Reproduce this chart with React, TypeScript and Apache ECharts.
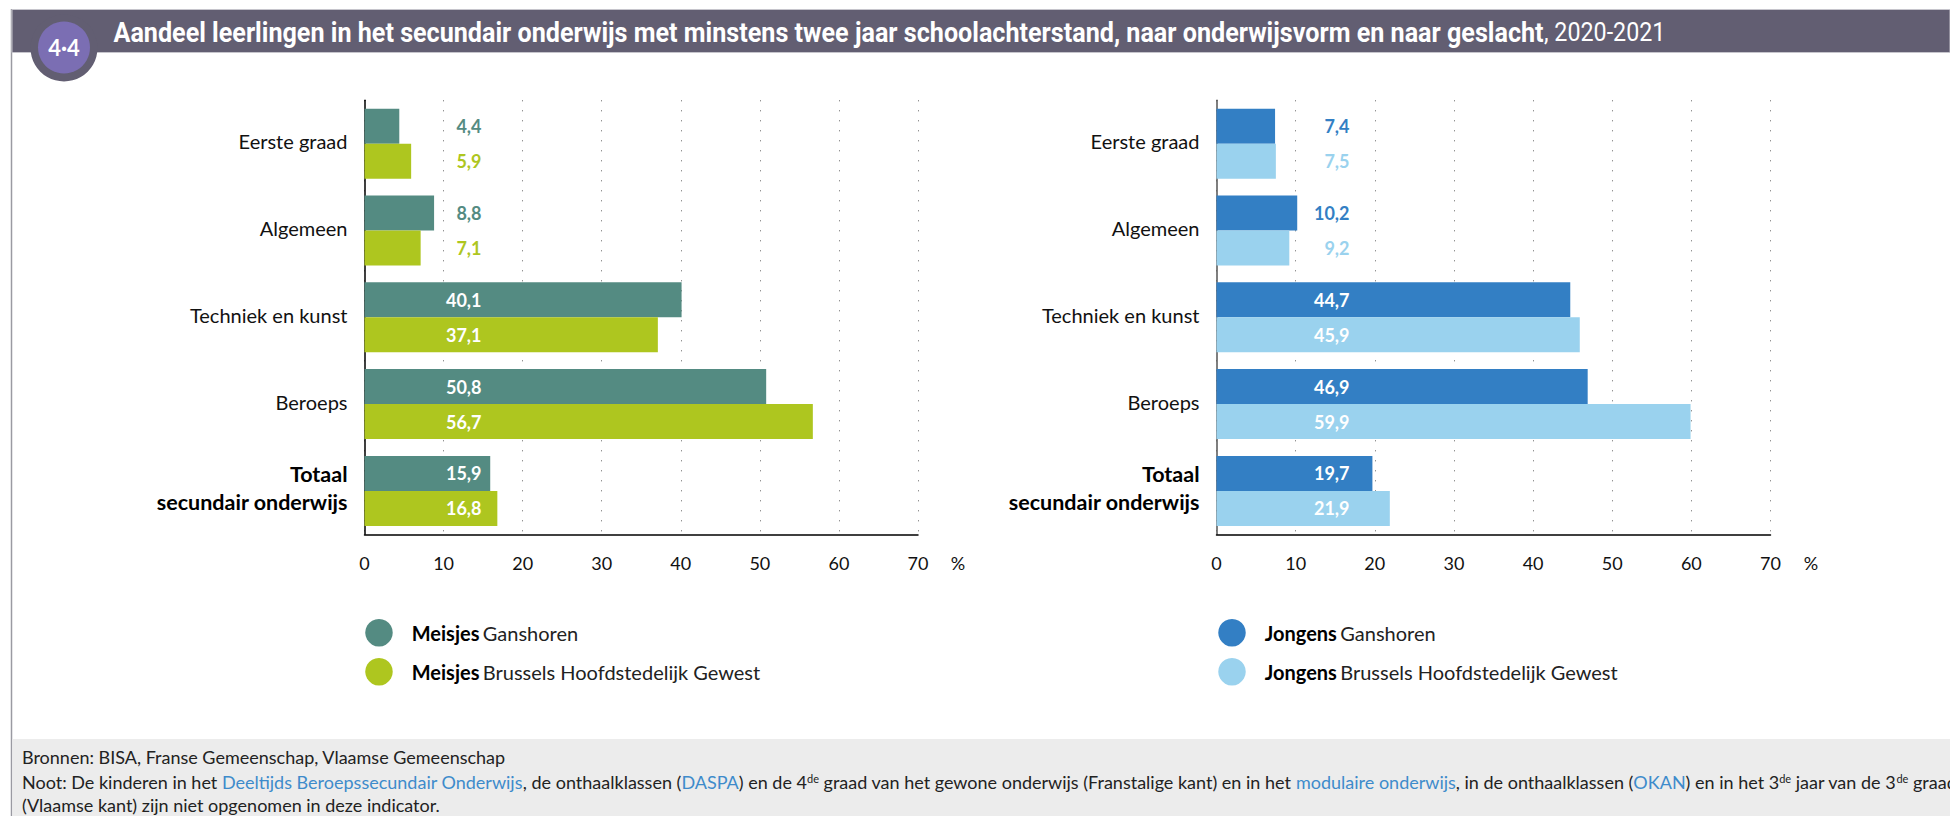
import React, { useEffect, useRef } from "react";
import * as echarts from "echarts";

const categories = ["Eerste graad", "Algemeen", "Techniek en kunst", "Beroeps", "Totaal\nsecundair onderwijs"];
const meisjesGanshoren = [4.4, 8.8, 40.1, 50.8, 15.9];
const meisjesBrussel = [5.9, 7.1, 37.1, 56.7, 16.8];
const jongensGanshoren = [7.4, 10.2, 44.7, 46.9, 19.7];
const jongensBrussel = [7.5, 9.2, 45.9, 59.9, 21.9];
const BODY = "Lato, 'Open Sans', sans-serif";
const HEAD = "Roboto, 'Open Sans', sans-serif";

const teal = "#548b82", lime = "#aec61f", blue = "#337fc4", sky = "#9ad2ee", link = "#3e8bcb";

function barSeries(name: string, values: number[], color: string, idx: number, labelX: number) {
  return {
    type: "bar", name, xAxisIndex: idx, yAxisIndex: idx,
    barWidth: 35, barGap: 0,
    itemStyle: { color },
    data: values.map((v) => ({ value: v, label: { color: v >= 15 ? "#fff" : color } })),
    label: {
      show: true,
      position: [labelX, "50%"],
      align: "right", verticalAlign: "middle",
      formatter: (p: any) => String(p.value).replace(".", ","),
      fontFamily: BODY, fontWeight: "bold", fontSize: 18,
    },
  };
}

const gridBase = { top: 100.3, height: 434, containLabel: false };

function xAxis(idx: number) {
  return {
    type: "value", gridIndex: idx, min: 0, max: 70, interval: 10,
    axisLine: { show: true, lineStyle: { color: "#000", width: 1.5 } },
    axisTick: { show: false },
    axisLabel: { fontFamily: BODY, fontSize: 18, color: "#111", margin: 20 },
    splitLine: { show: true, lineStyle: { color: "#666", width: 1, type: [1, 9] } },
  };
}

function yAxis(idx: number, lineColor: string) {
  return {
    type: "category", gridIndex: idx, data: categories, inverse: true,
    axisLine: { show: true, onZero: false, lineStyle: { color: lineColor, width: 1.5 } },
    axisTick: { show: false },
    axisLabel: {
      margin: 17, fontFamily: BODY, fontSize: 20, color: "#111", padding: [0, 0, 5, 0],
      formatter: (v: string) => v.includes("\n") ? v.split("\n").map((s) => `{t|${s}}`).join("\n") : v,
      rich: { t: { fontFamily: BODY, fontSize: 21.5, fontWeight: "bold", color: "#000", lineHeight: 28, align: "right" } },
    },
  };
}

function legendOf(left: number, names: string[]) {
  return {
    left, top: 614, orient: "vertical", itemWidth: 27.5, itemHeight: 27.5, itemGap: 11.5,
    icon: "circle", selectedMode: false, data: names,
    formatter: (n: string) => {
      const i = n.indexOf(" ");
      return `{s|}{b|${n.slice(0, i)}} {r|${n.slice(i + 1)}}`;
    },
    textStyle: {
      rich: {
        s: { width: 14 },
        b: { fontFamily: BODY, fontSize: 20, fontWeight: "bold", color: "#000" },
        r: { fontFamily: BODY, fontSize: 20, color: "#222" },
      },
    },
  };
}

const footerLine1 = "Bronnen: BISA, Franse Gemeenschap, Vlaamse Gemeenschap";
const footerLine2 =
  "{n|Noot: De kinderen in het }{l|Deeltijds Beroepssecundair Onderwijs}{n|, de onthaalklassen (}{l|DASPA}{n|) en de 4}{u|de}{n| graad van het gewone onderwijs (Franstalige kant) en in het }{l|modulaire onderwijs}{n|, in de onthaalklassen (}{l|OKAN}{n|) en in het 3}{u|de}{n| jaar van de 3}{u|de}{n| graad}";
const footerLine3 = "(Vlaamse kant) zijn niet opgenomen in deze indicator.";
const titleMain = "Aandeel leerlingen in het secundair onderwijs met minstens twee jaar schoolachterstand, naar onderwijsvorm en naar geslacht";
const titleRest = ", 2020-2021";

export default function App() {
  const ref = useRef<HTMLDivElement>(null);
  useEffect(() => {
    document.body.style.margin = "0";
    document.body.style.overflow = "hidden";
    const chart = echarts.init(ref.current!, undefined, { renderer: "svg" });
    const footRich = {
      n: { fontFamily: BODY, fontSize: 18, fill: "#222" },
      l: { fontFamily: BODY, fontSize: 18, fill: link },
      u: { fontFamily: BODY, fontSize: 11, fill: "#222", verticalAlign: "top" },
    };
    chart.setOption({
      animation: false,
      backgroundColor: "#fff",
      grid: [
        { ...gridBase, left: 364.5, width: 553.5 },
        { ...gridBase, left: 1216.5, width: 554 },
      ],
      xAxis: [xAxis(0), xAxis(1)],
      yAxis: [yAxis(0, "#000"), yAxis(1, "#555")],
      legend: [
        legendOf(360.25, ["Meisjes Ganshoren", "Meisjes Brussels Hoofdstedelijk Gewest"]),
        legendOf(1213.25, ["Jongens Ganshoren", "Jongens Brussels Hoofdstedelijk Gewest"]),
      ],
      series: [
        barSeries("Meisjes Ganshoren", meisjesGanshoren, teal, 0, 117),
        barSeries("Meisjes Brussels Hoofdstedelijk Gewest", meisjesBrussel, lime, 0, 117),
        barSeries("Jongens Ganshoren", jongensGanshoren, blue, 1, 133),
        barSeries("Jongens Brussels Hoofdstedelijk Gewest", jongensBrussel, sky, 1, 133),
      ],
      graphic: [
        { type: "line", z: -5, shape: { x1: 11.5, y1: 9, x2: 11.5, y2: 816 }, style: { stroke: "#9a9aa2", lineWidth: 1.5 } },
        { type: "rect", z: -4, shape: { x: 12, y: 9.5, width: 1938, height: 43 }, style: { fill: "#625e72", stroke: "#c6c5cc", lineWidth: 1 } },
        { type: "circle", z: -3, shape: { cx: 64, cy: 48, r: 33.5 }, style: { fill: "#625e72" } },
        { type: "circle", z: -2, shape: { cx: 64, cy: 47.5, r: 26 }, style: { fill: "#7b6eb3" } },
        { type: "text", z: 5, x: 64, y: 47.5, style: { text: "4·4", fill: "#fff", font: `bold 22px ${BODY}`, align: "center", verticalAlign: "middle" } },
        {
          type: "text", z: 5, x: 113.5, y: 32.5, scaleX: 0.931,
          style: {
            text: `{m|${titleMain}}{r|${titleRest}}`,
            verticalAlign: "middle",
            rich: {
              m: { fontFamily: HEAD, fontWeight: "bold", fontSize: 27, fill: "#fff" },
              r: { fontFamily: HEAD, fontSize: 25, fill: "#fff" },
            },
          },
        },
        { type: "text", z: 5, x: 958, y: 563, style: { text: "%", fill: "#111", font: `18px ${BODY}`, align: "center", verticalAlign: "middle" } },
        { type: "text", z: 5, x: 1811, y: 563, style: { text: "%", fill: "#111", font: `18px ${BODY}`, align: "center", verticalAlign: "middle" } },
        { type: "rect", z: -4, shape: { x: 12.5, y: 739, width: 1938, height: 77 }, style: { fill: "#ececec" } },
        { type: "text", z: 5, x: 22, y: 757, style: { text: footerLine1, fill: "#222", font: `18px ${BODY}`, verticalAlign: "middle" } },
        { type: "text", z: 5, x: 22, y: 782, style: { text: footerLine2, rich: footRich, verticalAlign: "middle" } },
        { type: "text", z: 5, x: 22, y: 805, style: { text: footerLine3, fill: "#222", font: `18px ${BODY}`, verticalAlign: "middle" } },
      ],
    });
    return () => chart.dispose();
  }, []);
  return <div ref={ref} style={{ width: 1950, height: 816 }} />;
}
